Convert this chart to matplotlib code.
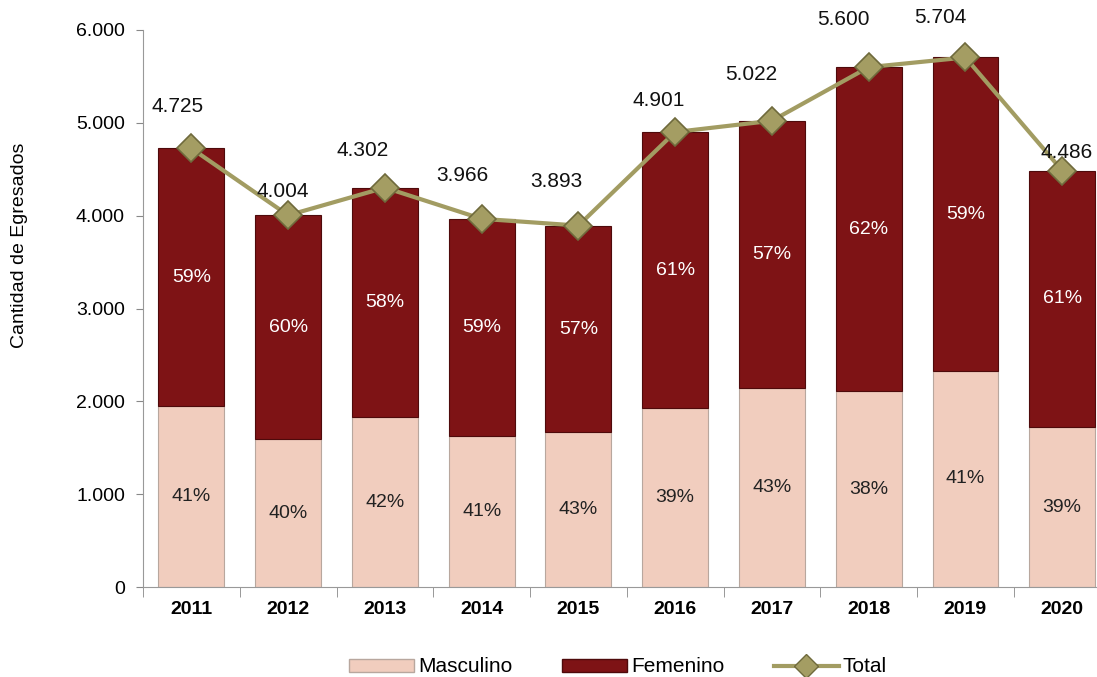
import matplotlib
matplotlib.use("Agg")
import matplotlib.pyplot as plt
from matplotlib.lines import Line2D
from matplotlib.patches import Patch
import numpy as np

plt.rcParams['font.family'] = ['Liberation Sans', 'DejaVu Sans']

years = ["2011", "2012", "2013", "2014", "2015", "2016", "2017", "2018", "2019", "2020"]
totals = [4725, 4004, 4302, 3966, 3893, 4901, 5022, 5600, 5704, 4486]
masculino = [1945, 1590, 1830, 1630, 1665, 1925, 2140, 2110, 2330, 1720]
pct_masc = ["41%", "40%", "42%", "41%", "43%", "39%", "43%", "38%", "41%", "39%"]
pct_fem = ["59%", "60%", "58%", "59%", "57%", "61%", "57%", "62%", "59%", "61%"]
total_labels = ["4.725", "4.004", "4.302", "3.966", "3.893", "4.901", "5.022", "5.600", "5.704", "4.486"]
yticks = [0, 1000, 2000, 3000, 4000, 5000, 6000]
ytick_labels = ["0", "1.000", "2.000", "3.000", "4.000", "5.000", "6.000"]

femenino = [t - m for t, m in zip(totals, masculino)]

# label offsets (points) for the total annotations
label_dx = [-10, -4, -16, -14, -16, -12, -15, -18, -18, 3]
label_dy = [30, 17, 27, 31, 32, 23, 33, 34, 29, 13]

C_MASC = "#F1CDBE"
C_FEM = "#7E1315"
C_LINE = "#A29C62"
C_MEDGE = "#6F6A3C"

fig = plt.figure(figsize=(10.97, 6.77), dpi=100)
ax = fig.add_axes([143/1097, 1 - 587/677, 1 - 143/1097, (587 - 30)/677])

x = np.arange(len(years))
w = 0.68
ax.bar(x, masculino, width=w, color=C_MASC, edgecolor="#B8A79E", linewidth=0.8, zorder=2)
ax.bar(x, femenino, bottom=masculino, width=w, color=C_FEM, edgecolor="#4E0A0B", linewidth=0.8, zorder=2)
ax.plot(x, totals, color=C_LINE, linewidth=3, marker="D", markersize=14,
        markerfacecolor="#A49D63", markeredgecolor=C_MEDGE, markeredgewidth=1.2, zorder=4)

for i in range(len(years)):
    ax.text(x[i], masculino[i] / 2, pct_masc[i], ha="center", va="center", fontsize=14, color="#222222", zorder=5)
    ax.text(x[i], masculino[i] + femenino[i] / 2, pct_fem[i], ha="center", va="center", fontsize=14, color="white", zorder=5)
    ax.annotate(total_labels[i], (x[i], totals[i]), xytext=(label_dx[i], label_dy[i]),
                textcoords="offset points", ha="center", va="center", fontsize=15, color="#111111", zorder=6)

ax.set_yticks(yticks)
ax.set_yticklabels(ytick_labels, fontsize=14)
ax.set_xticks(x)
ax.set_xticklabels(years, fontsize=14, fontweight="bold")
ax.tick_params(axis="x", length=0, pad=10)
ax.set_xticks(np.arange(-0.5, 9.6, 1), minor=True)
ax.tick_params(axis="x", which="minor", length=7, color="#888888", direction="out")
ax.tick_params(axis="y", length=5, color="#888888", direction="out", pad=8)
ax.set_ylim(0, 6000)
ax.set_xlim(-0.5, 9.36)
for s in ["top", "right"]:
    ax.spines[s].set_visible(False)
ax.spines["left"].set_color("#999999")
ax.spines["bottom"].set_color("#999999")

fig.text(20/1097, 1 - 245/677, "Cantidad de Egresados", rotation=90, ha="center", va="center", fontsize=14)

handles = [
    Patch(facecolor=C_MASC, edgecolor="#B8A79E", label="Masculino"),
    Patch(facecolor=C_FEM, edgecolor="#4E0A0B", label="Femenino"),
    Line2D([0], [0], color=C_LINE, linewidth=3, marker="D", markersize=12,
           markerfacecolor="#A49D63", markeredgecolor=C_MEDGE, label="Total"),
]
fig.legend(handles=handles, loc="center", bbox_to_anchor=(618/1097, 1 - 667/677), ncol=3,
           frameon=False, fontsize=15, handlelength=3.1, handleheight=0.6, columnspacing=2.4,
           handletextpad=0.2)

fig.savefig("out.png", dpi=100)
